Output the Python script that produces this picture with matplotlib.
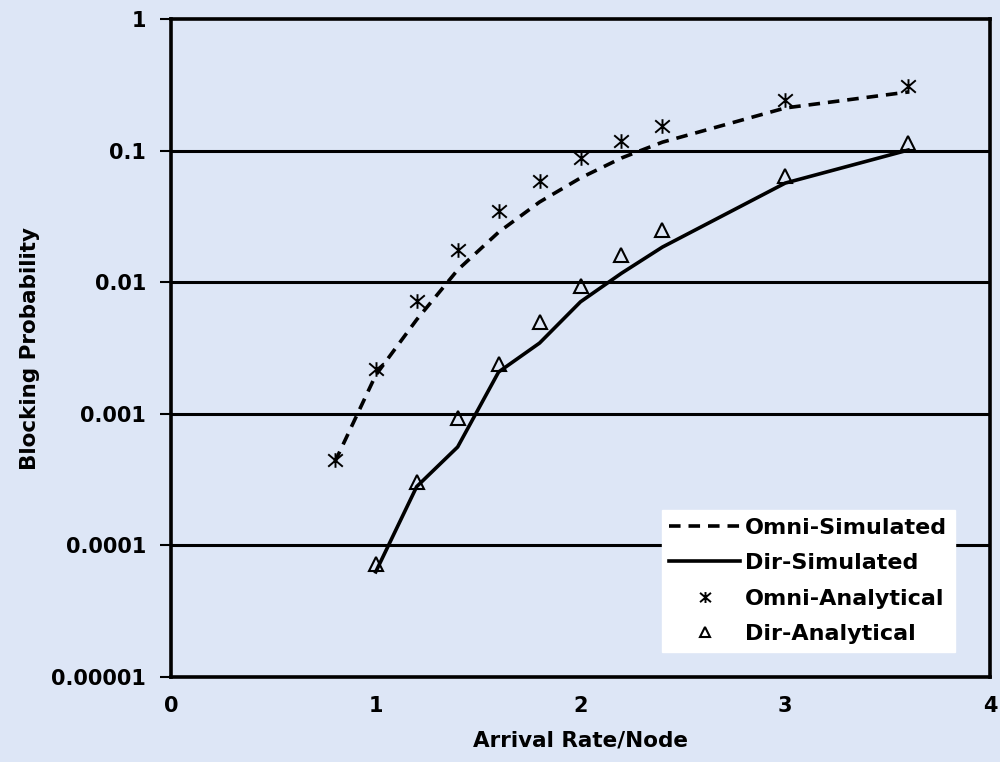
import matplotlib
matplotlib.use("Agg")
import matplotlib.pyplot as plt
from matplotlib.path import Path

# arrival rate per node
x_vals = [0.8, 1.0, 1.2, 1.4, 1.6, 1.8, 2.0, 2.2, 2.4, 3.0, 3.6]
x_dir = [1.0, 1.2, 1.4, 1.6, 1.8, 2.0, 2.2, 2.4, 3.0, 3.6]

omni_sim = [4.3e-4, 1.97e-3, 5.2e-3, 0.0124, 0.024, 0.0407, 0.062, 0.0879, 0.116, 0.211, 0.279]
dir_sim = [6.3e-5, 2.8e-4, 5.6e-4, 2.08e-3, 3.45e-3, 7.1e-3, 0.0117, 0.0185, 0.0567, 0.101]
omni_ana = [4.45e-4, 2.19e-3, 7.2e-3, 0.0176, 0.0348, 0.0588, 0.0879, 0.118, 0.154, 0.242, 0.31]
dir_ana = [7.2e-5, 3.03e-4, 9.3e-4, 2.4e-3, 5.0e-3, 9.4e-3, 0.0161, 0.0249, 0.064, 0.114]

y_ticks = [1e-5, 1e-4, 1e-3, 1e-2, 1e-1, 1]
y_labels = ["0.00001", "0.0001", "0.001", "0.01", "0.1", "1"]
x_ticks = [0, 1, 2, 3, 4]

bg = "#dde6f6"

# asterisk marker: an X with a vertical bar through it
star = Path([(-1, -0.85), (1, 0.85), (-1, 0.85), (1, -0.85), (0, -1), (0, 1)],
            [Path.MOVETO, Path.LINETO, Path.MOVETO, Path.LINETO, Path.MOVETO, Path.LINETO])

plt.rcParams["font.family"] = "DejaVu Sans"
plt.rcParams["font.weight"] = "bold"

fig = plt.figure(figsize=(10, 7.62), dpi=100, facecolor=bg)
ax = fig.add_axes([0.171, 0.1115, 0.819, 0.8635])
ax.set_facecolor(bg)

ax.set_yscale("log")
ax.set_ylim(1e-5, 1)
ax.set_xlim(0, 4)

for t in y_ticks[1:-1]:
    ax.axhline(t, color="black", lw=2.2, zorder=1)

ax.plot(x_vals, omni_sim, color="black", lw=2.6, ls=(0, (3.2, 2.2)), label="Omni-Simulated", zorder=3)
ax.plot(x_dir, dir_sim, color="black", lw=2.6, label="Dir-Simulated", zorder=3)
ax.plot(x_vals, omni_ana, ls="none", marker=star, ms=10.5, mec="black", mew=1.4,
        label="Omni-Analytical", zorder=4)
ax.plot(x_dir, dir_ana, ls="none", marker="^", ms=10.5, mfc="none", mec="black", mew=1.5,
        label="Dir-Analytical", zorder=4)

ax.set_yticks(y_ticks)
ax.set_yticklabels(y_labels)
ax.yaxis.set_minor_locator(matplotlib.ticker.NullLocator())
ax.set_xticks(x_ticks)
ax.tick_params(axis="y", length=8, width=1.5, pad=10, labelsize=15)
ax.tick_params(axis="x", length=0, pad=14, labelsize=15)

for s in ax.spines.values():
    s.set_linewidth(2.6)
    s.set_color("black")

ax.set_xlabel("Arrival Rate/Node", fontsize=15.5, fontweight="bold", labelpad=10)
ax.set_ylabel("Blocking Probability", fontsize=15.5, fontweight="bold", labelpad=8)

leg = ax.legend(loc="lower right", bbox_to_anchor=(0.957, 0.038), fontsize=16,
                frameon=True, fancybox=False, edgecolor="white", facecolor="white",
                framealpha=1, handlelength=3.2, handletextpad=0.2, labelspacing=0.7,
                borderpad=0.35, borderaxespad=0, markerscale=0.75)
for t in leg.get_texts():
    t.set_fontweight("bold")

fig.savefig("out.png", dpi=100, facecolor=bg)
